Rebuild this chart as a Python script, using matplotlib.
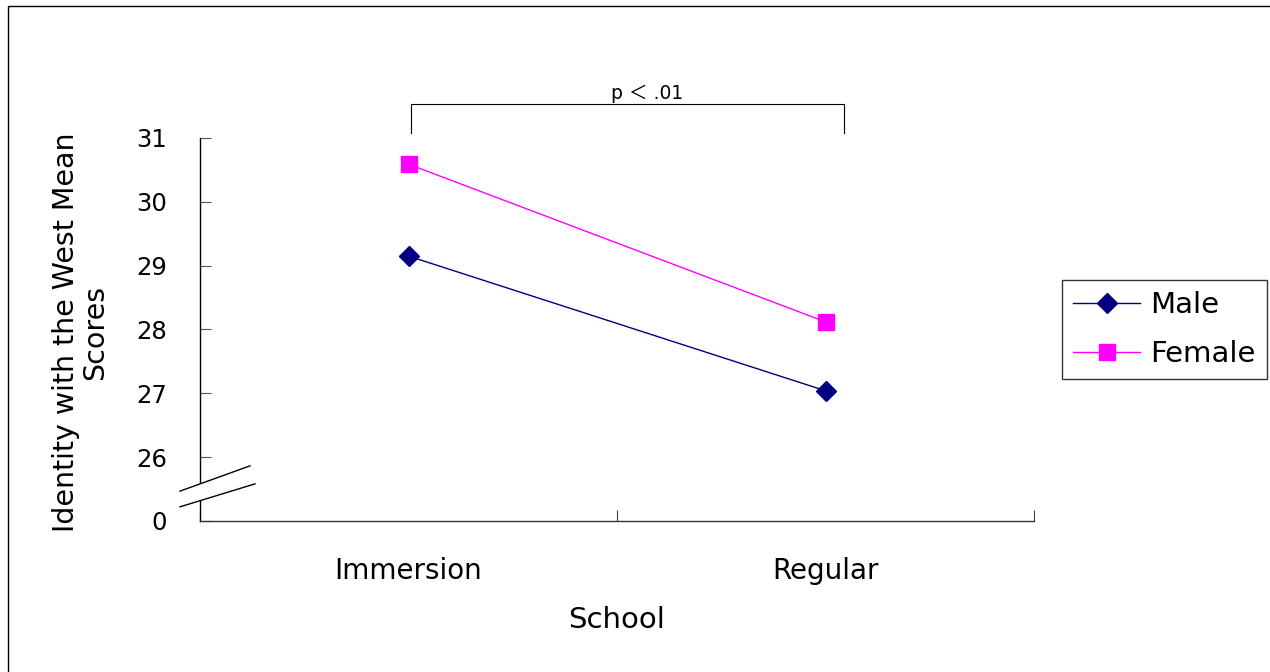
import matplotlib
matplotlib.use("Agg")
import matplotlib.pyplot as plt
from matplotlib.patches import Rectangle, Polygon
from matplotlib.lines import Line2D

plt.rcParams['font.family'] = ['DejaVu Sans', 'Noto Sans CJK JP']

categories = ["Immersion", "Regular"]
male = [29.15, 27.04]
female = [30.59, 28.12]
ytick_vals = [25, 26, 27, 28, 29, 30, 31]
ytick_labels = ["0", "26", "27", "28", "29", "30", "31"]

W, H = 1270, 672
fig = plt.figure(figsize=(W / 100, H / 100), dpi=100)
ax = fig.add_axes([200 / W, 1 - 521 / H, 834 / W, 383 / H])

xpos = [0.5, 1.5]
ax.plot(xpos, male, color="#000080", lw=1, marker="D", markersize=10,
        markerfacecolor="#000080", markeredgecolor="#000080", label="Male",
        clip_on=False, zorder=3)
ax.plot(xpos, female, color="#FF00FF", lw=1, marker="s", markersize=11,
        markerfacecolor="#FF00FF", markeredgecolor="#FF00FF", label="Female",
        clip_on=False, zorder=3)

ax.set_xlim(0, 2)
ax.set_ylim(25, 31)
ax.set_yticks(ytick_vals)
ax.set_yticklabels(ytick_labels, fontsize=17.5)
ax.set_xticks([0, 1, 2])
ax.set_xticklabels([])
ax.set_xticks(xpos, minor=True)
ax.set_xticklabels(categories, minor=True, fontsize=20)
ax.tick_params(axis="x", which="minor", length=0, pad=26)
ax.tick_params(axis="x", which="major", direction="in", length=8, color="#444444")
ax.tick_params(axis="y", direction="in", length=8, color="#555555", pad=24)
for s in ["top", "right"]:
    ax.spines[s].set_visible(False)
ax.spines["left"].set_linewidth(1)
ax.spines["bottom"].set_linewidth(1)
ax.spines["bottom"].set_color("#333333")
ax.set_xlabel("School", fontsize=21)
ax.xaxis.set_label_coords(0.5, -0.222)
ax.set_ylabel("Identity with the West Mean\nScores", fontsize=20.5,
              linespacing=1.05)
ax.yaxis.set_label_coords(-0.109, 0.493)

# axis break marks (axes fraction)
t = ax.transAxes
l1 = [(-0.024, 0.078), (0.060, 0.144)]
l2 = [(-0.024, 0.037), (0.066, 0.097)]
poly = Polygon([l1[0], l1[1], l2[1], l2[0]], closed=True, transform=t,
               facecolor="white", edgecolor="none", clip_on=False, zorder=4)
ax.add_patch(poly)
for l in (l1, l2):
    ax.add_line(Line2D([l[0][0], l[1][0]], [l[0][1], l[1][1]], transform=t,
                       color="black", lw=1, clip_on=False, zorder=5))

# significance bracket
bx0, bx1 = 0.505, 1.545
ax.plot([bx0, bx0, bx1, bx1], [31.08, 31.53, 31.53, 31.08], color="black",
        lw=0.8, clip_on=False)
ax.text(1.072, 31.555, "p ＜ .01", ha="center", va="bottom", fontsize=13.5)

leg = fig.legend(loc="upper left", bbox_to_anchor=(1062 / W, 1 - 280 / H),
                 fontsize=21, frameon=True, fancybox=False, borderaxespad=0,
                 handlelength=2.3, borderpad=0.38, labelspacing=0.73,
                 handletextpad=0.35)
leg.get_frame().set_edgecolor("black")
leg.get_frame().set_linewidth(1)

fig.patches.append(Rectangle((8 / W, -0.1), 1.2, 1 - 6 / H + 0.1,
                             transform=fig.transFigure, fill=False,
                             edgecolor="black", lw=1))

fig.savefig("out.png", dpi=100)
